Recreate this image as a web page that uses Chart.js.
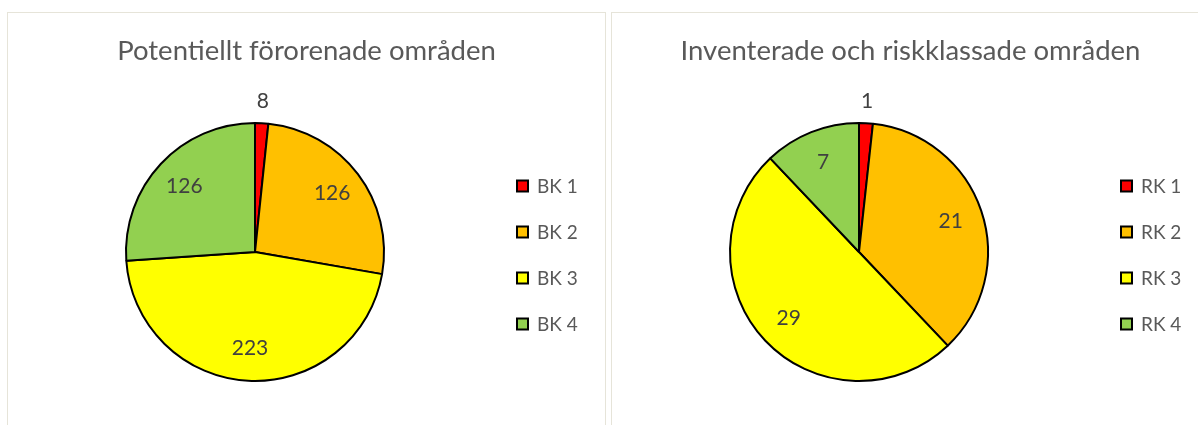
<!DOCTYPE html>
<html><head><meta charset="utf-8">
<script src="https://cdn.jsdelivr.net/npm/chart.js@4/dist/chart.umd.min.js"></script>
<style>
html,body{margin:0;padding:0;background:#fff;overflow:hidden;width:1198px;height:425px}
.panel{position:absolute;top:12px;width:597px;height:420px;border:1px solid #e6e4d9;background:#fff}
#p1{left:7px} #p2{left:611px}
canvas{display:block}
</style></head><body>
<div class="panel" id="p1"><canvas id="c1" width="597" height="420"></canvas></div>
<div class="panel" id="p2"><canvas id="c2" width="597" height="420"></canvas></div>
<script>
const titleLeft = 'Potentiellt förorenade områden';
const categoriesLeft = ['BK 1', 'BK 2', 'BK 3', 'BK 4'];
const valuesLeft = [8, 126, 223, 126];

const titleRight = 'Inventerade och riskklassade områden';
const categoriesRight = ['RK 1', 'RK 2', 'RK 3', 'RK 4'];
const valuesRight = [1, 21, 29, 7];

const sliceColors = ['#FF0000', '#FFC000', '#FFFF00', '#92D050'];
const FONT = "Lato, 'Liberation Sans', sans-serif";

const titlePlugin = {
  id: 'wideTitle',
  afterDraw(chart, args, opts) {
    const ctx = chart.ctx;
    ctx.save();
    ctx.font = '27.5px ' + FONT;
    ctx.fillStyle = '#595959';
    ctx.textAlign = 'center';
    ctx.textBaseline = 'middle';
    ctx.fillText(opts.text, chart.width / 2, 38);
    ctx.restore();
  }
};

const labelPlugin = {
  id: 'valueLabels',
  afterDatasetsDraw(chart) {
    const ctx = chart.ctx;
    const meta = chart.getDatasetMeta(0);
    const data = chart.data.datasets[0].data;
    ctx.save();
    ctx.font = '21px ' + FONT;
    ctx.fillStyle = '#404040';
    ctx.textAlign = 'center';
    ctx.textBaseline = 'middle';
    meta.data.forEach((arc, i) => {
      const p = arc.getProps(['x', 'y', 'startAngle', 'endAngle', 'outerRadius'], true);
      const mid = (p.startAngle + p.endAngle) / 2;
      const span = p.endAngle - p.startAngle;
      const rr = span < 0.2 ? p.outerRadius * 1.17 : p.outerRadius * 0.75;
      ctx.fillText(String(data[i]), p.x + Math.cos(mid) * rr, p.y + Math.sin(mid) * rr);
    });
    ctx.restore();
  }
};

const legendPlugin = {
  id: 'sideLegend',
  afterDraw(chart) {
    const ctx = chart.ctx;
    const area = chart.chartArea;
    const labels = chart.data.labels;
    const colors = chart.data.datasets[0].backgroundColor;
    const boxX = area.right + 132;
    const cy = (area.top + area.bottom) / 2 + 3;
    const gap = 46;
    ctx.save();
    ctx.font = '19px ' + FONT;
    ctx.textBaseline = 'middle';
    ctx.textAlign = 'left';
    labels.forEach((lab, i) => {
      const y = cy + (i - (labels.length - 1) / 2) * gap;
      ctx.fillStyle = colors[i];
      ctx.fillRect(boxX, y - 5.5, 11, 11);
      ctx.strokeStyle = '#000';
      ctx.lineWidth = 2;
      ctx.strokeRect(boxX, y - 5.5, 11, 11);
      ctx.fillStyle = '#595959';
      ctx.fillText(lab, boxX + 20, y + 1);
    });
    ctx.restore();
  }
};

function makePie(id, title, labels, values) {
  return new Chart(document.getElementById(id), {
    type: 'pie',
    data: {
      labels: labels,
      datasets: [{
        data: values,
        backgroundColor: sliceColors,
        borderColor: '#000000',
        borderWidth: 2
      }]
    },
    options: {
      responsive: false,
      devicePixelRatio: 1,
      animation: false,
      layout: { padding: { left: 117, right: 220, top: 109, bottom: 51 } },
      plugins: {
        legend: { display: false },
        tooltip: { enabled: false },
        title: { display: false },
        wideTitle: { text: title }
      }
    },
    plugins: [titlePlugin, labelPlugin, legendPlugin]
  });
}

makePie('c1', titleLeft, categoriesLeft, valuesLeft);
makePie('c2', titleRight, categoriesRight, valuesRight);
</script>
</body></html>
